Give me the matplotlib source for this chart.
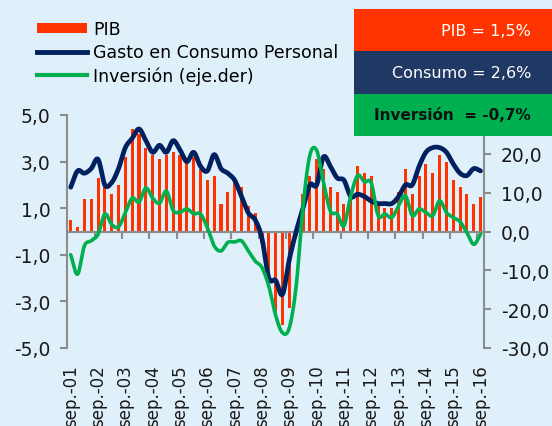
import numpy as np
import matplotlib
matplotlib.use("Agg")
import matplotlib.pyplot as plt
import matplotlib.transforms as mtransforms
from matplotlib.patches import Rectangle, Patch
from matplotlib.lines import Line2D

# ---- data (quarterly, sep-01 .. sep-16, % yoy) ----
years = ["01", "02", "03", "04", "05", "06", "07", "08",
         "09", "10", "11", "12", "13", "14", "15", "16"]

pib = [0.5, 0.2, 1.4, 1.4, 2.3, 2.0, 1.6, 2.0, 3.2, 4.4,
       4.2, 3.6, 3.3, 3.1, 3.3, 3.4, 3.3, 3.0, 3.2, 2.7,
       2.2, 2.4, 1.2, 1.7, 2.1, 1.9, 1.1, 0.8, -0.5, -2.2,
       -3.5, -4.0, -3.3, -0.2, 1.6, 2.4, 3.1, 2.7, 1.9, 1.7,
       1.2, 1.6, 2.8, 2.5, 2.4, 1.2, 1.0, 1.0, 1.7, 2.7,
       1.6, 2.4, 2.9, 2.5, 3.3, 3.0, 2.2, 1.9, 1.6, 1.2, 1.5]

consumo = [1.9, 2.6, 2.5, 2.7, 3.1, 2.0, 2.1, 2.7, 3.6, 4.0,
           4.4, 3.9, 3.4, 3.7, 3.4, 3.9, 3.5, 3.0, 3.4, 2.8,
           2.6, 3.3, 2.7, 2.5, 2.2, 1.5, 0.8, 0.5, -0.3, -2.0,
           -2.1, -2.7, -1.2, 0.0, 1.0, 2.0, 2.0, 3.2, 2.8, 2.3,
           2.2, 1.5, 1.6, 1.5, 1.3, 1.2, 1.2, 1.2, 1.5, 2.0,
           2.0, 2.8, 3.4, 3.6, 3.6, 3.4, 2.9, 2.5, 2.4, 2.7, 2.6]

inversion = [-6.0, -11.0, -3.7, -2.4, -0.7, 4.5, 1.8, 1.2, 4.9, 8.6,
             7.6, 11.2, 8.6, 7.3, 10.4, 5.4, 5.0, 5.8, 4.6, 4.5,
             1.0, -3.7, -5.0, -2.8, -2.7, -2.4, -5.0, -7.6, -9.3, -14.1,
             -21.6, -26.1, -24.8, -14.1, 6.2, 19.6, 20.9, 12.7, 5.3, 4.5,
             1.5, 9.2, 14.4, 12.8, 12.5, 4.1, 4.5, 3.6, 6.6, 9.2,
             4.1, 5.8, 4.9, 4.1, 7.9, 4.9, 3.6, 2.5, -0.3, -3.3, -0.7]

box_texts = ["PIB = 1,5%", "Consumo = 2,6%", "Inversión  = -0,7%"]

BG = "#dff0fa"
RED = "#ff3300"
NAVY = "#002060"
GREEN = "#00b050"
BOX_NAVY = "#1f3864"
GREY = "#8c8c8c"


def smooth(y, n=12):
    # catmull-rom curve through the points (like excel smoothed lines)
    y = np.asarray(y, float)
    p = np.concatenate([[2 * y[0] - y[1]], y, [2 * y[-1] - y[-2]]])
    xs, ys = [], []
    for i in range(len(y) - 1):
        p0, p1, p2, p3 = p[i], p[i + 1], p[i + 2], p[i + 3]
        t = np.linspace(0, 1, n, endpoint=False)
        yy = 0.5 * ((2 * p1) + (-p0 + p2) * t + (2 * p0 - 5 * p1 + 4 * p2 - p3) * t ** 2
                    + (-p0 + 3 * p1 - 3 * p2 + p3) * t ** 3)
        xs.append(i + t)
        ys.append(yy)
    xs.append([len(y) - 1])
    ys.append([y[-1]])
    return np.concatenate(xs), np.concatenate(ys)


fig = plt.figure(figsize=(5.52, 4.27), dpi=100, facecolor=BG)
ax = fig.add_axes([67.3 / 552, 1 - 349 / 427, (484 - 67.3) / 552, (349 - 116) / 427])
ax.set_facecolor(BG)
ax2 = ax.twinx()

x = np.arange(len(pib))
ax.bar(x, pib, width=0.45, color=RED, zorder=2)
sx, sy = smooth(consumo)
ax.plot(sx, sy, color=NAVY, lw=3.4, solid_capstyle="round", zorder=3)
gx, gy = smooth(inversion)
ax2.plot(gx, gy, color=GREEN, lw=2.6, solid_capstyle="round")

ax.set_xlim(-0.5, len(pib) - 0.5)
ax.set_ylim(-5, 5)
ax2.set_ylim(-30, 30)
ax.set_yticks([-5, -3, -1, 1, 3, 5])
ax.set_yticklabels(["-5,0", "-3,0", "-1,0", "1,0", "3,0", "5,0"])
ax2.set_yticks([-30, -20, -10, 0, 10, 20])
ax2.set_yticklabels(["-30,0", "-20,0", "-10,0", "0,0", "10,0", "20,0"])

for a in (ax, ax2):
    a.spines["top"].set_visible(False)
ax.spines["right"].set_visible(False)
ax2.spines["left"].set_visible(False)
ax2.spines["bottom"].set_visible(False)
ax.spines["left"].set_color(GREY)
ax.spines["left"].set_linewidth(1.5)
ax2.spines["right"].set_color(GREY)
ax2.spines["right"].set_linewidth(1.5)

# category axis crossing at zero
ax.spines["bottom"].set_position(("data", 0))
ax.spines["bottom"].set_color(GREY)
ax.spines["bottom"].set_linewidth(1.5)
ax.set_xticks(np.arange(-0.5, len(pib), 4))
ax.tick_params(axis="x", direction="out", length=5, width=1.5, color=GREY, labelbottom=False)
ax.tick_params(axis="y", direction="out", length=5, width=1.5, color=GREY,
               labelsize=13.5, pad=7, labelcolor="#1a1a1a")
ax2.tick_params(axis="y", direction="out", length=5, width=1.5, color=GREY,
                labelsize=13.5, pad=7, labelcolor="#1a1a1a")

trans = mtransforms.blended_transform_factory(ax.transData, ax.transAxes)
for i, yr in enumerate(years):
    ax.text(i * 4, -0.07, "sep.-" + yr, transform=trans, rotation=90,
            ha="center", va="top", fontsize=12, color="#1a1a1a")

# legend
handles = [Patch(facecolor=RED, edgecolor="none"),
           Line2D([], [], color=NAVY, lw=3.5),
           Line2D([], [], color=GREEN, lw=3)]
fig.legend(handles, ["PIB", "Gasto en Consumo Personal", "Inversión (eje.der)"],
           loc="upper left", bbox_to_anchor=(37 / 552, 1 - 21 / 427), frameon=False,
           fontsize=12.5, handlelength=2.9, handleheight=0.5, handletextpad=0.35,
           labelspacing=0.3, borderpad=0, borderaxespad=0)

# summary boxes
boxes = [(10, 52, RED, "white", "normal", 11.5),
         (52, 95, BOX_NAVY, "white", "normal", 11.5),
         (95, 137, GREEN, "#111111", "bold", 11)]
for (top, bot, fc, tc, fw, fs), txt in zip(boxes, box_texts):
    y0 = 1 - bot / 427
    h = (bot - top) / 427
    fig.patches.append(Rectangle((354 / 552, y0), 198 / 552, h, transform=fig.transFigure,
                                 facecolor=fc, edgecolor="none", zorder=5))
    fig.text(531 / 552, y0 + h / 2, txt, ha="right", va="center", color=tc,
             fontsize=fs, fontweight=fw, zorder=6)

fig.savefig("out.png", dpi=100, facecolor=BG)
